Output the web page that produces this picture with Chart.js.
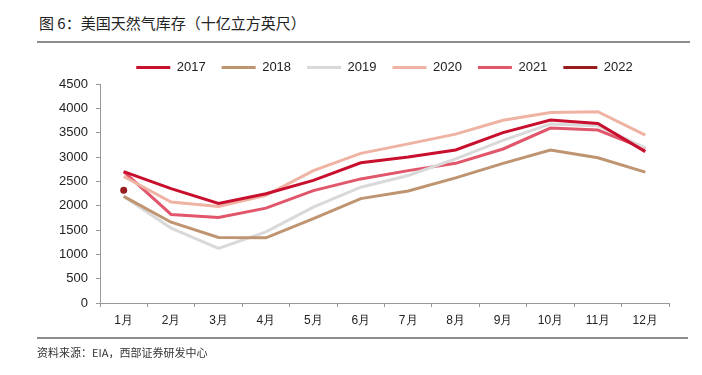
<!DOCTYPE html>
<html>
<head>
<meta charset="utf-8">
<script src="https://cdn.jsdelivr.net/npm/chart.js@4/dist/chart.umd.min.js"></script>
<style>
  html, body { margin: 0; padding: 0; background: #fff; }
  #wrap { position: relative; width: 702px; height: 375px; overflow: hidden; }
  #title {
    position: absolute; left: 39px; top: 12px;
    font: 15px "Noto Sans CJK SC", sans-serif; color: #222;
  }
  #source {
    position: absolute; left: 37px; top: 344px;
    font: 11px "Noto Sans CJK SC", sans-serif; color: #333;
  }
  .rule { position: absolute; left: 37px; height: 2px; background: #8c8c8c; }
  #chart { position: absolute; left: 0; top: 0; }
</style>
</head>
<body>
<div id="wrap">
  <div id="title">图 6：美国天然气库存（十亿立方英尺）</div>
  <div class="rule" style="top:41px; width:653px;"></div>
  <canvas id="chart" width="702" height="375"></canvas>
  <div class="rule" style="top:337px; width:651px;"></div>
  <div id="source">资料来源：EIA，西部证券研发中心</div>
</div>

<script>
/* ======================================================
   Datos
====================================================== */
const MONTHS = ['1月', '2月', '3月', '4月', '5月', '6月', '7月', '8月', '9月', '10月', '11月', '12月'];

const S2017 = [2700, 2350, 2045, 2245, 2520, 2880, 3000, 3145, 3500, 3760, 3690, 3110];
const S2018 = [2190, 1660, 1345, 1340, 1735, 2145, 2300, 2570, 2870, 3145, 2985, 2690];
const S2019 = [2190, 1540, 1120, 1460, 1970, 2380, 2620, 2960, 3340, 3680, 3640, 3190];
const S2020 = [2600, 2075, 1985, 2210, 2720, 3075, 3270, 3470, 3755, 3915, 3930, 3450];
const S2021 = [2700, 1820, 1755, 1950, 2310, 2550, 2720, 2870, 3165, 3595, 3555, 3165];
const S2022 = [2315, null, null, null, null, null, null, null, null, null, null, null];

const Y_MIN = 0;
const Y_MAX = 4500;
const Y_STEP = 500;

/* ======================================================
   Series
====================================================== */
function lineSeries(label, data, color) {
  return {
    label,
    data,
    borderColor: color,
    backgroundColor: color,
    borderWidth: 3,
    pointRadius: 0,
    pointHoverRadius: 0,
    tension: 0,
    fill: false
  };
}

const datasets = [
  lineSeries('2017', S2017, '#c8102e'),
  lineSeries('2018', S2018, '#bf9471'),
  lineSeries('2019', S2019, '#d9d9d9'),
  lineSeries('2020', S2020, '#efb3a3'),
  lineSeries('2021', S2021, '#e1566a'),
  {
    ...lineSeries('2022', S2022, '#981b1e'),
    pointRadius: 3.5,
    pointBorderWidth: 0,
    pointStyle: 'circle'
  }
];

const AXIS_COLOR = '#999999';
const TEXT_COLOR = '#222222';

/* Centra la leyenda sobre el área de trazado, no sobre todo el lienzo */
const centerLegendOnArea = {
  id: 'centerLegendOnArea',
  beforeDraw(chart) {
    if (chart.legend) {
      chart.legend.left = chart.chartArea.left;
      chart.legend.right = chart.chartArea.right;
    }
  }
};

new Chart(document.getElementById('chart'), {
  type: 'line',
  data: { labels: MONTHS, datasets },
  plugins: [centerLegendOnArea],
  options: {
    responsive: false,
    animation: false,
    layout: { padding: { top: 45, right: 33, bottom: 42, left: 0 } },
    plugins: {
      legend: {
        display: true,
        position: 'top',
        labels: {
          color: TEXT_COLOR,
          font: { family: 'Liberation Sans, Arial, sans-serif', size: 13 },
          usePointStyle: true,
          pointStyleWidth: 34,
          boxHeight: 3,
          padding: 16,
          generateLabels(chart) {
            return chart.data.datasets.map((ds, i) => ({
              text: ds.label,
              fillStyle: ds.borderColor,
              strokeStyle: ds.borderColor,
              lineWidth: 3,
              pointStyle: 'line',
              hidden: false,
              datasetIndex: i,
              fontColor: TEXT_COLOR
            }));
          }
        }
      },
      tooltip: { enabled: false }
    },
    scales: {
      x: {
        offset: true,
        grid: {
          display: true,
          drawOnChartArea: false,
          offset: true,
          tickLength: 4,
          color: AXIS_COLOR
        },
        border: { color: AXIS_COLOR, width: 1 },
        ticks: {
          color: TEXT_COLOR,
          font: { family: 'Liberation Sans, Arial, sans-serif', size: 12 },
          padding: 6,
          maxRotation: 0,
          autoSkip: false
        },
        afterFit(scale) { scale.height = 30; }
      },
      y: {
        min: Y_MIN,
        max: Y_MAX,
        grid: {
          display: true,
          drawOnChartArea: false,
          tickLength: 4,
          color: AXIS_COLOR
        },
        border: { color: AXIS_COLOR, width: 1 },
        ticks: {
          stepSize: Y_STEP,
          color: TEXT_COLOR,
          font: { family: 'Liberation Sans, Arial, sans-serif', size: 13 },
          padding: 8,
          callback: v => String(v)
        },
        afterFit(scale) { scale.width = 100; }
      }
    }
  }
});
</script>
</body>
</html>
